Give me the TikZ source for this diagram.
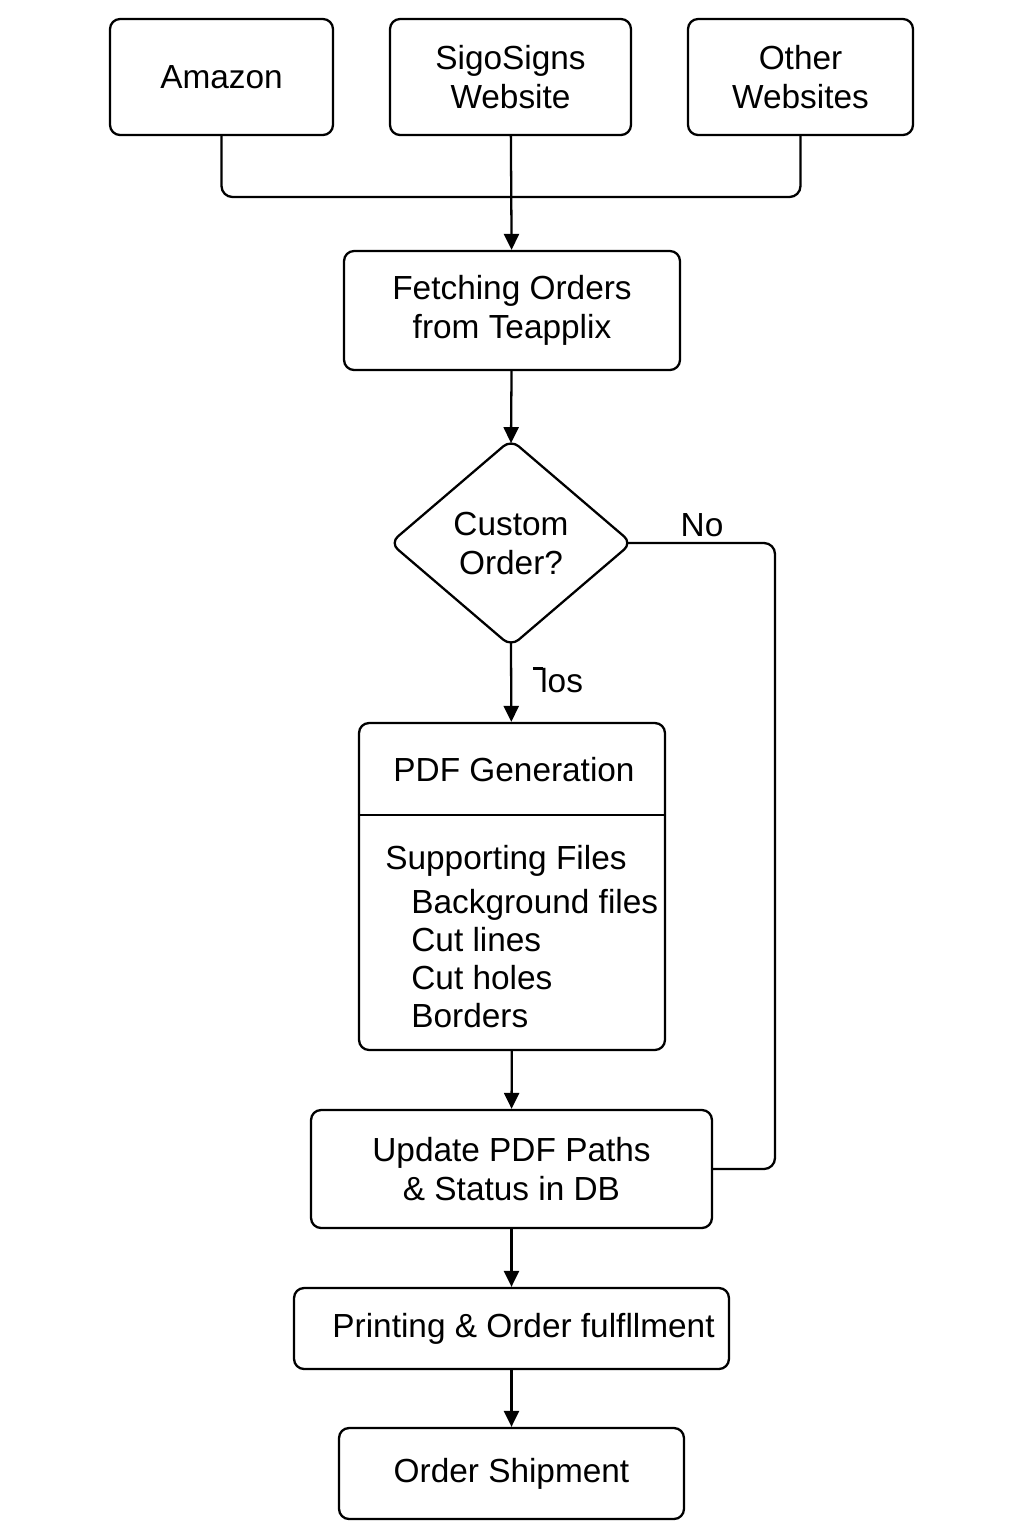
\documentclass[tikz,border=0pt]{standalone}
\usepackage{fontspec}
\setmainfont{Liberation Sans}
\usetikzlibrary{shapes.geometric,arrows.meta}
\tikzset{
	box/.style={draw, line width=1.3pt, rounded corners=0.2cm, align=center, inner sep=0pt},
	flow/.style={line width=1.3pt, -{Triangle[length=0.32cm,width=0.3cm]}},
	link/.style={line width=1.3pt, rounded corners=0.22cm},
}

\begin{document}
\begin{tikzpicture}[x=0.02cm, y=-0.02cm, font=\fontsize{19}{22.2}\selectfont]
			%%%%% START %%%%%
			\useasboundingbox (0,0) rectangle (1024,1536);
			
			\node[box, minimum width=4.46cm, minimum height=2.32cm] (amazon) at (221.5,77) {Amazon};
			\node[box, minimum width=4.82cm, minimum height=2.32cm] (sigo) at (510.5,77) {SigoSigns\\Website};
			\node[box, minimum width=4.5cm, minimum height=2.32cm] (other) at (800.5,77) {Other\\Websites};
			
			\node[box, minimum width=6.72cm, minimum height=2.38cm] (fetch) at (512,310.5) {Fetching Orders\\from Teapplix};
			
			\node[box, diamond, minimum width=4.85cm, minimum height=4.15cm] (custom) at (511,543) {Custom\\Order?};
			\node (nolabel) at (702,525) {No};
			\node (yeslabel) at (558,680) {\rule[0.66em]{0.3em}{0.08em}\kern-0.08em los};
			
			\node[box, minimum width=6.12cm, minimum height=6.54cm] (pdf) at (512,886.5) {};
			\draw[line width=1.3pt] (pdf.west |- 0,815) -- (pdf.east |- 0,815);
			\node (pdftitle) at (514,770) {PDF Generation};
			\node[anchor=north west, align=left, inner sep=0pt, font=\fontsize{19}{21.6}\selectfont] (files) at (385,845) {Supporting Files\\[0.12cm]
				\hspace{0.52cm}Background files\\
				\hspace{0.52cm}Cut lines\\
				\hspace{0.52cm}Cut holes\\
				\hspace{0.52cm}Borders};
			
			\node[box, minimum width=8.02cm, minimum height=2.36cm] (update) at (511.5,1169) {Update PDF Paths\\\& Status in DB};
			\node[box, minimum width=8.7cm, minimum height=1.62cm] (print) at (511.5,1328.5) {\hspace{0.48cm}Printing \& Order fulfllment};
			\node[box, minimum width=6.9cm, minimum height=1.82cm] (ship) at (511.5,1473.5) {Order Shipment};
			
			\coordinate (merge) at (511,197);
			\coordinate (noturn) at (775,543);
			
			\draw[link] (amazon.south) |- (merge) -| (other.south);
			\draw[flow] (sigo) -- (fetch);
			\draw[flow] (fetch) -- ([yshift=-0.1cm]custom.north);
			\draw[flow] ([yshift=0.1cm]custom.south) -- (pdf);
			\draw[link] ([xshift=-0.12cm]custom.east) -- (noturn) |- (update.east);
			\draw[flow] (pdf) -- (update);
			\draw[flow] (update) -- (print);
			\draw[flow] (print) -- (ship);
			
			%%%%% END %%%%%
\end{tikzpicture}
\end{document}
